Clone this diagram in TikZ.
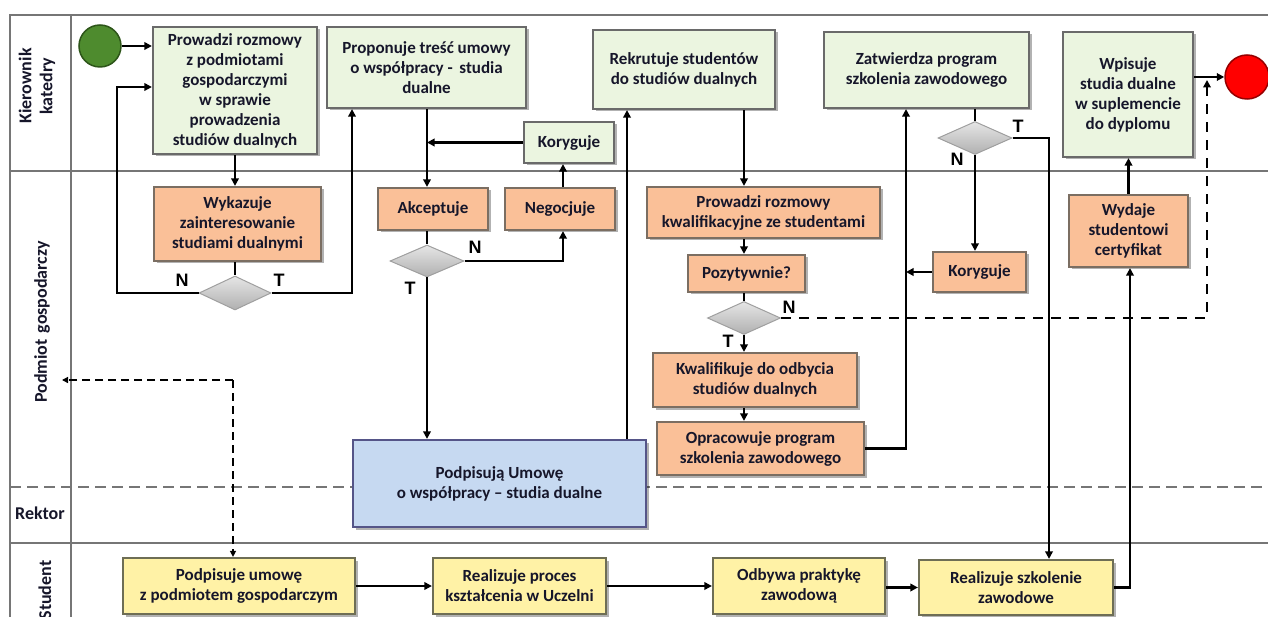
\documentclass[tikz,border=0pt]{standalone}
\usepackage{fontspec}
\setmainfont{Carlito}
\newfontfamily\lblfont{Liberation Sans}
\usetikzlibrary{arrows.meta,shapes.geometric,shadows}
\definecolor{gfill}{HTML}{EBF5E0}
\definecolor{ofill}{HTML}{FAC098}
\definecolor{bfill}{HTML}{C6D9F1}
\definecolor{yfill}{HTML}{FFF2A6}
\definecolor{bdr}{HTML}{6A6A6A}
\definecolor{txt}{HTML}{16162A}
\definecolor{lanec}{HTML}{767676}
\begin{document}
\begin{tikzpicture}[x=1pt,y=-1pt,
  box/.style={draw=bdr, line width=2.2pt, align=center, text=txt,
    font=\bfseries\fontsize{17}{20}\selectfont, inner sep=0pt,
    drop shadow={shadow xshift=2.5pt,shadow yshift=-2.5pt,fill=black,opacity=0.3}},
  gbox/.style={box, fill=gfill},
  obox/.style={box, fill=ofill, draw=bdr!80!brown},
  bbox/.style={box, fill=bfill, draw=bdr!80!blue},
  ybox/.style={box, fill=yfill, draw=bdr!80!olive},
  dec/.style={diamond, inner sep=0pt, draw=gray!75, line width=1pt,
    top color=gray!20, bottom color=gray!62},
  arr/.style={line width=2.4pt, -{Triangle[length=7.5pt,width=7.5pt]}},
  ln/.style={line width=2.4pt},
  dsh/.style={line width=1.3pt, dash pattern=on 8pt off 5pt, -{Triangle[length=6pt,width=6pt]}},
  dshN/.style={line width=2.4pt, dash pattern=on 10pt off 8pt, -{Triangle[length=7.5pt,width=7.5pt]}},
  lane/.style={draw=lanec, line width=1.6pt},
  lanelbl/.style={font=\bfseries\fontsize{18}{21}\selectfont, text=txt, align=center},
  yn/.style={font=\lblfont\bfseries\fontsize{18}{20}\selectfont, text=black}
]
\useasboundingbox (0,0) rectangle (1268,617);
% lanes
\draw[lane] (10,617) -- (10,15) -- (1268,15);
\draw[lane] (71,15) -- (71,617);
\draw[lane] (10,171) -- (1268,171);
\draw[lane, dash pattern=on 11pt off 6pt] (10,487) -- (1268,487);
\draw[lane] (10,543) -- (1268,543);
% lane labels
\node[lanelbl, rotate=90] (lk) at (37,86) {Kierownik\\katedry};
\node[lanelbl, rotate=90] (lp) at (42,322) {Podmiot\hspace{6pt}gospodarczy};
\node[lanelbl] (lr) at (40,513) {Rektor};
\node[lanelbl, rotate=90] (ls) at (45,590) {Student};
% events
\node[circle, minimum size=42pt, inner sep=0pt, fill={rgb,255:red,78;green,139;blue,46}, draw={rgb,255:red,45;green,85;blue,25}, line width=1.5pt] (start) at (100,46) {};
\node[circle, minimum size=44pt, inner sep=0pt, fill=red, draw={rgb,255:red,150;green,0;blue,0}, line width=1.5pt] (end) at (1247,77) {};
% Kierownik lane
\node[gbox, minimum width=164pt, minimum height=127pt] (b1) at (235,90.5) {Prowadzi rozmowy\\z podmiotami\\gospodarczymi\\w sprawie\\prowadzenia\\studiów dualnych};
\node[gbox, minimum width=199pt, minimum height=81pt] (b2) at (426.5,67.5) {Proponuje treść umowy\\o współpracy -\,\ studia\\dualne};
\node[gbox, minimum width=90pt, minimum height=41pt] (kor1) at (569,142.5) {Koryguje};
\node[gbox, minimum width=182pt, minimum height=79pt] (rek) at (684,69.5) {Rekrutuje studentów\\do studiów dualnych};
\node[gbox, minimum width=205pt, minimum height=76pt] (zat) at (926.5,70) {Zatwierdza program\\szkolenia zawodowego};
\node[gbox, minimum width=130pt, minimum height=125pt] (wp) at (1128,94.5) {Wpisuje\\studia dualne\\w suplemencie\\do dyplomu};
% Podmiot lane
\node[obox, minimum width=167pt, minimum height=74pt] (w1) at (237.5,224) {Wykazuje\\zainteresowanie\\studiami dualnymi};
\node[obox, minimum width=110pt, minimum height=42pt] (akc) at (433,209) {Akceptuje};
\node[obox, minimum width=110pt, minimum height=42pt] (neg) at (560,209) {Negocjuje};
\node[obox, minimum width=233pt, minimum height=51pt] (pk) at (763.5,212.5) {Prowadzi rozmowy\\kwalifikacyjne ze studentami};
\node[obox, minimum width=117pt, minimum height=37pt] (poz) at (746.5,273.5) {Pozytywnie?};
\node[obox, minimum width=204pt, minimum height=54pt] (kw) at (755,380) {Kwalifikuje do odbycia\\studiów dualnych};
\node[obox, minimum width=207pt, minimum height=53pt] (op) at (760.5,448.5) {Opracowuje program\\szkolenia zawodowego};
\node[obox, minimum width=93pt, minimum height=40pt] (kor2) at (979.5,272) {Koryguje};
\node[obox, minimum width=119pt, minimum height=72pt] (wyd) at (1128.5,231) {Wydaje\\studentowi\\certyfikat};
\node[bbox, minimum width=293pt, minimum height=87pt] (umowa) at (499.5,483.5) {Podpisują Umowę\\o współpracy – studia dualne};
% Student lane
\node[ybox, minimum width=232pt, minimum height=56pt] (s1) at (239,586) {Podpisuje umowę\\z podmiotem gospodarczym};
\node[ybox, minimum width=173pt, minimum height=56pt] (s2) at (519.5,586) {Realizuje proces\\kształcenia w Uczelni};
\node[ybox, minimum width=172pt, minimum height=56pt] (s3) at (799,586) {Odbywa praktykę\\zawodową};
\node[ybox, minimum width=194pt, minimum height=55pt] (s4) at (1016,587.5) {Realizuje szkolenie\\zawodowe};
% decisions
\node[dec, minimum width=72pt, minimum height=34pt] (d1) at (235,293) {};
\node[dec, minimum width=74pt, minimum height=32pt] (d2) at (427,261) {};
\node[dec, minimum width=73pt, minimum height=33pt] (d3) at (744,318) {};
\node[dec, minimum width=74pt, minimum height=33pt] (d4) at (975,138) {};
% helper coordinates
\coordinate (xa) at (117,87);
\coordinate (xb) at (352,0);
\coordinate (xc) at (563,0);
\coordinate (xd) at (627,0);
\coordinate (xe) at (906,0);
\coordinate (xf) at (1049,0);
\coordinate (xg) at (1130,0);
\coordinate (ea) at (1207,80);
\coordinate (dc) at (233,380);
\coordinate (dl) at (62,380);
% connectors
\draw[arr] (start) -- (b1.west |- start);
\draw[arr] (b1.south) -- (b1.south |- w1.north);
\draw[ln] (w1.south -| d1.north) -- (d1.north);
\draw[arr] (d1.west) -| (xa) -- (b1.west |- xa);
\draw[arr] (d1.east) -| (b2.south -| xb);
\draw[arr] (b2.south -| d2.north) -- (akc.north -| d2.north);
\draw[arr] (kor1.west) -- (kor1.west -| d2.north);
\draw[ln] (akc.south -| d2.north) -- (d2.north);
\draw[arr] (d2.east) -| (neg.south -| xc);
\draw[arr] (neg.north -| xc) -- (kor1.south -| xc);
\draw[arr] (d2.south) -- (umowa.north -| d2.south);
\draw[arr] (umowa.north -| xd) -- (rek.south -| xd);
\draw[arr] (rek.south -| d3.north) -- (pk.north -| d3.north);
\draw[arr] (pk.south -| d3.north) -- (poz.north -| d3.north);
\draw[ln] (poz.south -| d3.north) -- (d3.north);
\draw[arr] (d3.south) -- (kw.north -| d3.south);
\draw[arr] (kw.south -| d3.south) -- (op.north -| d3.south);
\draw[dshN] (d3.east) -| (ea);
\draw[arr] (op.east) -| (zat.south -| xe);
\draw[arr] (kor2.west) -- (kor2.west -| xe);
\draw[ln] (zat.south -| d4.north) -- (d4.north);
\draw[arr] (d4.south) -- (kor2.north -| d4.south);
\draw[arr] (d4.east) -| (s4.north -| xf);
\draw[arr] (s4.east) -| (wyd.south -| xg);
\draw[arr] (wyd.north) -- (wp.south -| wyd.north);
\draw[arr] (wp.east |- end.west) -- (end.west);
\draw[arr] (s1.east |- s2.west) -- (s2.west);
\draw[arr] (s2.east) -- (s3.west);
\draw[arr] (s3.east |- s4.west) -- (s4.west);
\draw[dsh] (dc) -- (dl);
\draw[dsh] (dc) -- (s1.north -| dc);
% labels
\node[yn] (n1) at (182,280) {N};
\node[yn] (t1) at (279,280) {T};
\node[yn] (n2) at (475,247) {N};
\node[yn] (t2) at (410,288) {T};
\node[yn] (n3) at (789,307) {N};
\node[yn] (t3) at (728,341) {T};
\node[yn] (t4) at (1018,126) {T};
\node[yn] (n4) at (957,159) {N};
\end{tikzpicture}
\end{document}
